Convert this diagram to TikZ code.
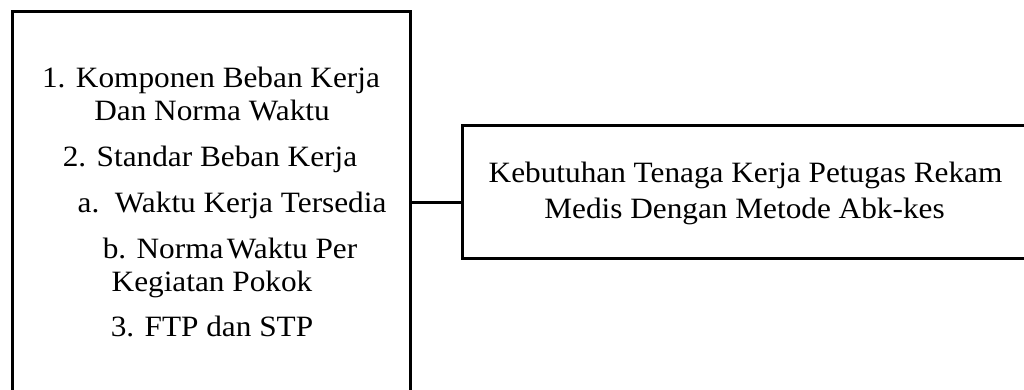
\documentclass[tikz,border=0pt]{standalone}
\usepackage{fontspec}
\setmainfont[FakeStretch=1.06]{Liberation Serif}
\begin{document}
\begin{tikzpicture}[x=1pt,y=-1pt,
  boxst/.style={draw=black, line width=3pt, rectangle, inner sep=0pt},
  txt/.style={anchor=base, inner sep=0pt, font=\fontsize{29.5}{33}\selectfont},
  conn/.style={draw=black, line width=3pt}]
\clip (0,0) rectangle (1024,389);
\useasboundingbox (0,0) rectangle (1024,389);
\fill[white] (0,0) rectangle (1024,389);
\node[boxst, minimum width=398pt, minimum height=420pt] (left) at (211,221) {};
\node[boxst, minimum width=566pt, minimum height=133pt] (right) at (745,191.5) {};
\node[txt] (l1) at (211,87) {1. Komponen Beban Kerja};
\node[txt] (l2) at (212,120) {Dan Norma Waktu};
\node[txt] (l3) at (210,166) {2. Standar Beban Kerja};
\node[txt] (l4) at (232,212) {a.\ \ Waktu Kerja Tersedia};
\node[txt] (l5) at (230,258) {b. Norma\hspace{-0.15em} Waktu Per};
\node[txt] (l6) at (212,291) {Kegiatan Pokok};
\node[txt] (l7) at (212,336) {3. FTP dan STP};
\node[txt] (r1) at (745.5,182) {Kebutuhan Tenaga Kerja Petugas Rekam};
\node[txt] (r2) at (744.5,218) {Medis Dengan Metode Abk-kes};
\coordinate (cy) at (436,202);
\draw[conn] (cy -| left.east) -- (cy -| right.west);
\end{tikzpicture}
\end{document}
